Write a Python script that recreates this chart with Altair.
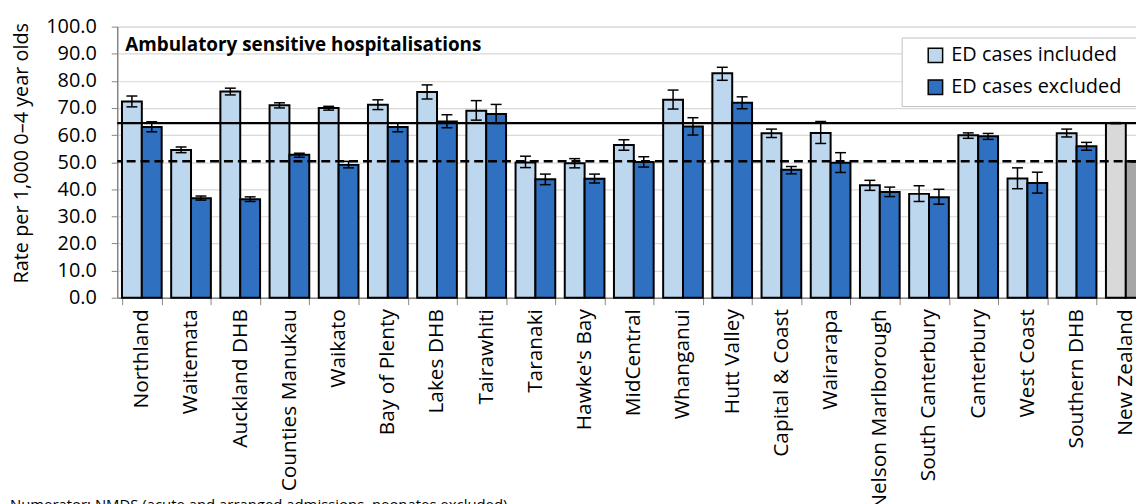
import altair as alt
import pandas as pd

categories = ["Northland", "Waitemata", "Auckland DHB", "Counties Manukau", "Waikato",
              "Bay of Plenty", "Lakes DHB", "Tairawhiti", "Taranaki", "Hawke's Bay",
              "MidCentral", "Whanganui", "Hutt Valley", "Capital & Coast", "Wairarapa",
              "Nelson Marlborough", "South Canterbury", "Canterbury", "West Coast",
              "Southern DHB", "New Zealand"]
included = [72.4, 54.5, 76.1, 71.0, 70.0, 71.2, 75.9, 69.0, 49.9, 49.6, 56.3, 73.0, 82.8,
            60.7, 60.8, 41.5, 38.3, 59.9, 44.0, 60.7, 64.4]
included_lo = [70.4, 53.5, 74.8, 70.0, 69.2, 69.4, 73.3, 65.5, 48.0, 47.9, 54.4, 69.6, 80.2,
               59.1, 56.9, 39.6, 35.5, 58.8, 40.2, 59.3, 64.2]
included_hi = [74.4, 55.6, 77.3, 71.9, 70.6, 73.0, 78.5, 72.7, 52.2, 51.3, 58.3, 76.6, 85.0,
               62.2, 65.0, 43.3, 41.3, 60.8, 47.9, 62.2, 64.6]
excluded = [63.0, 36.7, 36.3, 52.7, 49.0, 63.0, 65.0, 67.8, 43.7, 43.9, 50.1, 63.2, 71.9,
            47.2, 49.8, 39.0, 37.1, 59.6, 42.3, 55.9, 50.3]
excluded_lo = [61.2, 36.0, 35.5, 51.8, 47.9, 61.2, 62.7, 64.3, 41.7, 42.3, 48.2, 60.0, 69.7,
               45.7, 46.2, 37.3, 34.5, 58.4, 38.6, 54.4, 50.1]
excluded_hi = [64.9, 37.5, 37.2, 53.3, 50.3, 64.5, 67.5, 71.3, 45.6, 45.6, 52.0, 66.4, 74.1,
               48.4, 53.5, 40.8, 40.0, 60.6, 46.3, 57.3, 50.5]
y_ticks = [0, 10, 20, 30, 40, 50, 60, 70, 80, 90, 100]
series_names = ["ED cases included", "ED cases excluded"]
nz_names = ["NZ included", "NZ excluded"]
colors = ["#BDD7EE", "#2F70C0", "#D9D9D9", "#A6A6A6"]

rows = []
for i, c in enumerate(categories):
    for s, (v, lo, hi) in enumerate([(included[i], included_lo[i], included_hi[i]),
                                     (excluded[i], excluded_lo[i], excluded_hi[i])]):
        key = nz_names[s] if c == "New Zealand" else series_names[s]
        rows.append({"cat": c, "series": series_names[s], "value": v, "lo": lo, "hi": hi, "key": key})
df = pd.DataFrame(rows)

FONT = "Open Sans"
W = 1040.5
H = 273

xaxis = alt.Axis(title=None, labelAngle=270, labelAlign="right", labelBaseline="middle",
                 labelFontSize=21, labelFont=FONT, labelColor="black", labelPadding=4,
                 tickBand="extent", tickSize=7, tickColor="#868686", domainColor="#868686",
                 domainWidth=1.5, grid=False, labelLimit=400, labelOverlap=False)
x = alt.X("cat:N", sort=categories,
          scale=alt.Scale(paddingInner=0.193, paddingOuter=0.0965), axis=xaxis)
xo = alt.XOffset("series:N", sort=series_names, scale=alt.Scale(paddingInner=0, paddingOuter=0))
yscale = alt.Scale(domain=[0, 100], nice=False)
yaxis = alt.Axis(values=y_ticks, format=".1f", labelOverlap=False,
                 title="Rate per 1,000 0–4 year olds", titleFontSize=20,
                 titleFont=FONT, titleFontWeight="normal", titleColor="black",
                 titleAngle=270, titleX=-96, titleY=127, titleAlign="center",
                 titleBaseline="middle",
                 labelFontSize=20, labelFont=FONT, labelColor="black", labelPadding=15,
                 tickSize=6, tickColor="#868686", domainColor="#868686", domainWidth=1.5,
                 grid=True, gridColor="#D9D9D9", gridWidth=1.2)


def Y(field):
    return alt.Y(field, scale=yscale, axis=yaxis)


bars = alt.Chart(df).mark_bar(stroke="black", strokeWidth=2).encode(
    x=x, xOffset=xo, y=Y("value:Q"),
    color=alt.Color("key:N", scale=alt.Scale(domain=series_names + nz_names, range=colors),
                    legend=alt.Legend(values=series_names, title="\u00a0", titleOrient="right",
                                      titleFontSize=8, titlePadding=16,
                                      orient="none",
                                      legendX=790, legendY=11, symbolType="square",
                                      symbolSize=210, symbolStrokeColor="black",
                                      symbolStrokeWidth=1.5, symbolOffset=16,
                                      labelFontSize=20, labelFont=FONT, labelColor="black",
                                      labelLimit=400,
                                      fillColor="white", strokeColor="#BFBFBF", padding=8,
                                      rowPadding=10, labelOffset=6)),
)

ref_solid = alt.Chart(pd.DataFrame({"value": [included[-1]]})).mark_rule(
    color="black", strokeWidth=2.5).encode(y=Y("value:Q"))
ref_dash = alt.Chart(pd.DataFrame({"value": [excluded[-1]]})).mark_rule(
    color="black", strokeWidth=2.5, strokeDash=[9, 5]).encode(y=Y("value:Q"))

err = alt.Chart(df).mark_rule(color="black", strokeWidth=1.5).encode(
    x=x, xOffset=xo, y=Y("lo:Q"), y2="hi:Q")
cap_lo = alt.Chart(df).mark_tick(color="black", thickness=1.5, size=11, opacity=1).encode(
    x=x, xOffset=xo, y=Y("lo:Q"))
cap_hi = alt.Chart(df).mark_tick(color="black", thickness=1.5, size=11, opacity=1).encode(
    x=x, xOffset=xo, y=Y("hi:Q"))

title = alt.Chart(pd.DataFrame({"t": ["Ambulatory sensitive hospitalisations"]})).mark_text(
    align="left", baseline="alphabetic", fontSize=19, fontWeight="bold", font=FONT, color="black"
).encode(text="t:N", x=alt.value(8), y=alt.value(24.5))

footnote = alt.Chart(pd.DataFrame({"t": ["Numerator: NMDS (acute and arranged admissions, neonates excluded)"]})).mark_text(
    align="left", baseline="alphabetic", fontSize=15, font=FONT, color="black"
).encode(text="t:N", x=alt.value(-108), y=alt.value(487))

chart = alt.layer(bars, ref_solid, ref_dash, err, cap_lo, cap_hi, title, footnote).properties(
    width=W, height=H,
    autosize=alt.AutoSizeParams(type="none"),
    padding={"left": 110, "top": 17, "right": 1136 - 110 - W, "bottom": 496 - 17 - H},
).configure_view(stroke=None).configure(background="white")

chart.save("out.html", embed_options={"renderer": "svg", "actions": False})
